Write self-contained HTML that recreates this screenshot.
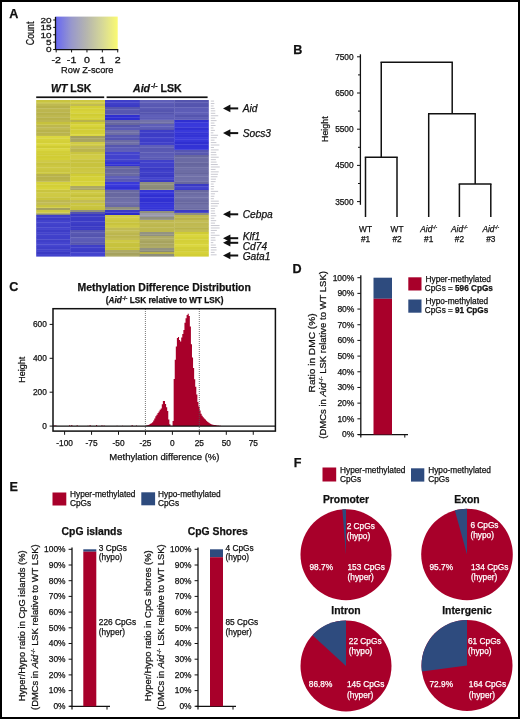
<!DOCTYPE html>
<html><head><meta charset="utf-8"><style>
html,body{margin:0;padding:0;background:#fff;}
body{width:520px;height:719px;overflow:hidden;position:relative;}
svg{position:absolute;left:0;top:0;filter:blur(0.3px);}
svg text{font-family:"Liberation Sans",sans-serif;stroke:currentColor;stroke-width:0.25px;}
svg{color:#111;}
.w{color:#fff;}
</style></head><body>
<svg width="520" height="719" viewBox="0 0 520 719" font-family="Liberation Sans, sans-serif" fill="#111">
<rect x="0" y="0" width="520" height="719" fill="#fff"/>
<text x="9.2" y="17.9" font-size="12.6" font-weight="bold">A</text>
<text x="293.3" y="53.9" font-size="12.6" font-weight="bold">B</text>
<text x="9.2" y="290.6" font-size="12.6" font-weight="bold">C</text>
<text x="292.6" y="272.7" font-size="12.6" font-weight="bold">D</text>
<text x="9.5" y="490.9" font-size="12.6" font-weight="bold">E</text>
<text x="293.8" y="466.9" font-size="12.6" font-weight="bold">F</text>
<defs><linearGradient id="ck" x1="0" x2="1" y1="0" y2="0"><stop offset="0" stop-color="#6868f2"/><stop offset="0.25" stop-color="#9898cc"/><stop offset="0.5" stop-color="#b6b6ae"/><stop offset="0.75" stop-color="#d6d898"/><stop offset="1" stop-color="#fafa72"/></linearGradient></defs>
<rect x="56.00" y="16.60" width="61.70" height="32.60" fill="url(#ck)"/>
<line x1="55.5" y1="16.8" x2="55.5" y2="50" stroke="#111" stroke-width="1.3"/>
<line x1="55.3" y1="49.6" x2="118.3" y2="49.6" stroke="#111" stroke-width="1.3"/>
<line x1="53.2" y1="20.0" x2="55.5" y2="20.0" stroke="#111" stroke-width="1"/>
<text transform="translate(51.6,22.80) scale(1.25,1)" font-size="8" text-anchor="end">20</text>
<line x1="53.2" y1="27.38" x2="55.5" y2="27.38" stroke="#111" stroke-width="1"/>
<text transform="translate(51.6,30.18) scale(1.25,1)" font-size="8" text-anchor="end">15</text>
<line x1="53.2" y1="34.76" x2="55.5" y2="34.76" stroke="#111" stroke-width="1"/>
<text transform="translate(51.6,37.56) scale(1.25,1)" font-size="8" text-anchor="end">10</text>
<line x1="53.2" y1="42.14" x2="55.5" y2="42.14" stroke="#111" stroke-width="1"/>
<text transform="translate(51.6,44.94) scale(1.25,1)" font-size="8" text-anchor="end">5</text>
<line x1="53.2" y1="49.519999999999996" x2="55.5" y2="49.519999999999996" stroke="#111" stroke-width="1"/>
<text transform="translate(51.6,52.32) scale(1.25,1)" font-size="8" text-anchor="end">0</text>
<line x1="56.2" y1="49.6" x2="56.2" y2="52.4" stroke="#111" stroke-width="1"/>
<text transform="translate(56.20,62.6) scale(1.3,1)" font-size="8.2" text-anchor="middle">-2</text>
<line x1="71.58" y1="49.6" x2="71.58" y2="52.4" stroke="#111" stroke-width="1"/>
<text transform="translate(71.58,62.6) scale(1.3,1)" font-size="8.2" text-anchor="middle">-1</text>
<line x1="86.96000000000001" y1="49.6" x2="86.96000000000001" y2="52.4" stroke="#111" stroke-width="1"/>
<text transform="translate(86.96,62.6) scale(1.3,1)" font-size="8.2" text-anchor="middle">0</text>
<line x1="102.34" y1="49.6" x2="102.34" y2="52.4" stroke="#111" stroke-width="1"/>
<text transform="translate(102.34,62.6) scale(1.3,1)" font-size="8.2" text-anchor="middle">1</text>
<line x1="117.72" y1="49.6" x2="117.72" y2="52.4" stroke="#111" stroke-width="1"/>
<text transform="translate(117.72,62.6) scale(1.3,1)" font-size="8.2" text-anchor="middle">2</text>
<text x="61.1" y="73.4" font-size="9.25">Row Z-score</text>
<text transform="translate(34,45.2) scale(1.22,1) rotate(-90)" font-size="8.8" textLength="23.6" lengthAdjust="spacingAndGlyphs">Count</text>
<text x="51" y="92.2" font-size="10.5" font-weight="bold"><tspan font-style="italic">WT</tspan> LSK</text>
<text x="133" y="92.2" font-size="10.6" font-weight="bold"><tspan font-style="italic">Aid</tspan><tspan font-size="7" dx="0.8" dy="-4">-/-</tspan><tspan dy="4"> LSK</tspan></text>
<rect x="36.20" y="96.40" width="68.00" height="1.70" fill="#111"/>
<rect x="106.60" y="96.40" width="101.00" height="1.70" fill="#111"/>
<rect x="36.20" y="100.00" width="34.30" height="2.74" fill="rgb(201,196,63)"/>
<rect x="36.20" y="102.44" width="34.30" height="1.36" fill="rgb(199,194,61)"/>
<rect x="36.20" y="103.50" width="34.30" height="2.74" fill="rgb(191,185,81)"/>
<rect x="36.20" y="105.94" width="34.30" height="2.74" fill="rgb(184,178,74)"/>
<rect x="36.20" y="108.38" width="34.30" height="1.92" fill="rgb(190,184,80)"/>
<rect x="36.20" y="110.00" width="34.30" height="2.74" fill="rgb(188,182,78)"/>
<rect x="36.20" y="112.44" width="34.30" height="2.74" fill="rgb(184,178,74)"/>
<rect x="36.20" y="114.88" width="34.30" height="2.74" fill="rgb(190,184,80)"/>
<rect x="36.20" y="117.32" width="34.30" height="2.74" fill="rgb(184,178,74)"/>
<rect x="36.20" y="119.76" width="34.30" height="2.54" fill="rgb(189,183,79)"/>
<rect x="36.20" y="122.00" width="34.30" height="2.74" fill="rgb(198,193,60)"/>
<rect x="36.20" y="124.44" width="34.30" height="0.86" fill="rgb(199,194,61)"/>
<rect x="36.20" y="125.00" width="34.30" height="2.74" fill="rgb(189,183,79)"/>
<rect x="36.20" y="127.44" width="34.30" height="2.74" fill="rgb(193,187,83)"/>
<rect x="36.20" y="129.88" width="34.30" height="2.74" fill="rgb(185,179,75)"/>
<rect x="36.20" y="132.32" width="34.30" height="2.74" fill="rgb(186,180,76)"/>
<rect x="36.20" y="134.76" width="34.30" height="1.54" fill="rgb(191,185,81)"/>
<rect x="36.20" y="136.00" width="34.30" height="2.74" fill="rgb(219,215,63)"/>
<rect x="36.20" y="138.44" width="34.30" height="2.74" fill="rgb(214,210,58)"/>
<rect x="36.20" y="140.88" width="34.30" height="2.74" fill="rgb(212,208,56)"/>
<rect x="36.20" y="143.32" width="34.30" height="2.74" fill="rgb(219,215,63)"/>
<rect x="36.20" y="145.76" width="34.30" height="2.74" fill="rgb(208,204,52)"/>
<rect x="36.20" y="148.20" width="34.30" height="2.74" fill="rgb(218,214,62)"/>
<rect x="36.20" y="150.64" width="34.30" height="2.74" fill="rgb(211,207,55)"/>
<rect x="36.20" y="153.08" width="34.30" height="2.74" fill="rgb(209,205,53)"/>
<rect x="36.20" y="155.52" width="34.30" height="2.74" fill="rgb(209,205,53)"/>
<rect x="36.20" y="157.96" width="34.30" height="2.34" fill="rgb(211,207,55)"/>
<rect x="36.20" y="160.00" width="34.30" height="2.74" fill="rgb(207,202,69)"/>
<rect x="36.20" y="162.44" width="34.30" height="2.74" fill="rgb(200,195,62)"/>
<rect x="36.20" y="164.88" width="34.30" height="2.74" fill="rgb(204,199,66)"/>
<rect x="36.20" y="167.32" width="34.30" height="2.74" fill="rgb(205,200,67)"/>
<rect x="36.20" y="169.76" width="34.30" height="2.74" fill="rgb(202,197,64)"/>
<rect x="36.20" y="172.20" width="34.30" height="2.10" fill="rgb(204,199,66)"/>
<rect x="36.20" y="174.00" width="34.30" height="2.74" fill="rgb(184,178,74)"/>
<rect x="36.20" y="176.44" width="34.30" height="2.74" fill="rgb(184,178,74)"/>
<rect x="36.20" y="178.88" width="34.30" height="2.74" fill="rgb(186,180,76)"/>
<rect x="36.20" y="181.32" width="34.30" height="0.98" fill="rgb(192,186,82)"/>
<rect x="36.20" y="182.00" width="34.30" height="2.74" fill="rgb(213,209,57)"/>
<rect x="36.20" y="184.44" width="34.30" height="2.74" fill="rgb(211,207,55)"/>
<rect x="36.20" y="186.88" width="34.30" height="2.74" fill="rgb(215,211,59)"/>
<rect x="36.20" y="189.32" width="34.30" height="0.98" fill="rgb(213,209,57)"/>
<rect x="36.20" y="190.00" width="34.30" height="2.74" fill="rgb(201,196,63)"/>
<rect x="36.20" y="192.44" width="34.30" height="2.74" fill="rgb(207,202,69)"/>
<rect x="36.20" y="194.88" width="34.30" height="2.74" fill="rgb(206,201,68)"/>
<rect x="36.20" y="197.32" width="34.30" height="2.74" fill="rgb(200,195,62)"/>
<rect x="36.20" y="199.76" width="34.30" height="0.54" fill="rgb(204,199,66)"/>
<rect x="36.20" y="200.00" width="34.30" height="2.74" fill="rgb(190,184,80)"/>
<rect x="36.20" y="202.44" width="34.30" height="2.74" fill="rgb(194,188,84)"/>
<rect x="36.20" y="204.88" width="34.30" height="0.42" fill="rgb(192,186,82)"/>
<rect x="36.20" y="205.00" width="34.30" height="2.74" fill="rgb(201,196,63)"/>
<rect x="36.20" y="207.44" width="34.30" height="0.86" fill="rgb(209,204,71)"/>
<rect x="36.20" y="208.00" width="34.30" height="2.30" fill="rgb(165,161,93)"/>
<rect x="36.20" y="210.00" width="34.30" height="2.74" fill="rgb(203,198,65)"/>
<rect x="36.20" y="212.44" width="34.30" height="1.36" fill="rgb(207,202,69)"/>
<rect x="36.20" y="213.50" width="34.30" height="1.80" fill="rgb(137,137,119)"/>
<rect x="36.20" y="215.00" width="34.30" height="2.74" fill="rgb(63,63,201)"/>
<rect x="36.20" y="217.44" width="34.30" height="2.74" fill="rgb(58,58,196)"/>
<rect x="36.20" y="219.88" width="34.30" height="2.74" fill="rgb(66,66,204)"/>
<rect x="36.20" y="222.32" width="34.30" height="2.74" fill="rgb(67,67,205)"/>
<rect x="36.20" y="224.76" width="34.30" height="2.74" fill="rgb(64,64,202)"/>
<rect x="36.20" y="227.20" width="34.30" height="2.74" fill="rgb(68,68,206)"/>
<rect x="36.20" y="229.64" width="34.30" height="2.74" fill="rgb(61,61,199)"/>
<rect x="36.20" y="232.08" width="34.30" height="2.74" fill="rgb(66,66,204)"/>
<rect x="36.20" y="234.52" width="34.30" height="2.74" fill="rgb(65,65,203)"/>
<rect x="36.20" y="236.96" width="34.30" height="2.74" fill="rgb(64,64,202)"/>
<rect x="36.20" y="239.40" width="34.30" height="2.74" fill="rgb(63,63,201)"/>
<rect x="36.20" y="241.84" width="34.30" height="2.74" fill="rgb(68,68,206)"/>
<rect x="36.20" y="244.28" width="34.30" height="2.74" fill="rgb(69,69,207)"/>
<rect x="36.20" y="246.72" width="34.30" height="2.74" fill="rgb(63,63,201)"/>
<rect x="36.20" y="249.16" width="34.30" height="2.74" fill="rgb(65,65,203)"/>
<rect x="36.20" y="251.60" width="34.30" height="2.74" fill="rgb(58,58,196)"/>
<rect x="36.20" y="254.04" width="34.30" height="2.56" fill="rgb(66,66,204)"/>
<rect x="70.20" y="100.00" width="35.10" height="2.74" fill="rgb(205,200,67)"/>
<rect x="70.20" y="102.44" width="35.10" height="1.86" fill="rgb(209,204,71)"/>
<rect x="70.20" y="104.00" width="35.10" height="2.30" fill="rgb(193,187,83)"/>
<rect x="70.20" y="106.00" width="35.10" height="2.74" fill="rgb(211,207,55)"/>
<rect x="70.20" y="108.44" width="35.10" height="2.74" fill="rgb(212,208,56)"/>
<rect x="70.20" y="110.88" width="35.10" height="2.74" fill="rgb(216,212,60)"/>
<rect x="70.20" y="113.32" width="35.10" height="2.74" fill="rgb(208,204,52)"/>
<rect x="70.20" y="115.76" width="35.10" height="2.74" fill="rgb(213,209,57)"/>
<rect x="70.20" y="118.20" width="35.10" height="2.10" fill="rgb(210,206,54)"/>
<rect x="70.20" y="120.00" width="35.10" height="2.30" fill="rgb(185,179,75)"/>
<rect x="70.20" y="122.00" width="35.10" height="2.74" fill="rgb(208,204,52)"/>
<rect x="70.20" y="124.44" width="35.10" height="2.74" fill="rgb(217,213,61)"/>
<rect x="70.20" y="126.88" width="35.10" height="2.74" fill="rgb(209,205,53)"/>
<rect x="70.20" y="129.32" width="35.10" height="2.74" fill="rgb(210,206,54)"/>
<rect x="70.20" y="131.76" width="35.10" height="2.74" fill="rgb(212,208,56)"/>
<rect x="70.20" y="134.20" width="35.10" height="2.10" fill="rgb(218,214,62)"/>
<rect x="70.20" y="136.00" width="35.10" height="2.74" fill="rgb(164,160,92)"/>
<rect x="70.20" y="138.44" width="35.10" height="2.74" fill="rgb(169,165,97)"/>
<rect x="70.20" y="140.88" width="35.10" height="1.42" fill="rgb(170,166,98)"/>
<rect x="70.20" y="142.00" width="35.10" height="2.74" fill="rgb(208,203,70)"/>
<rect x="70.20" y="144.44" width="35.10" height="1.86" fill="rgb(207,202,69)"/>
<rect x="70.20" y="146.00" width="35.10" height="2.74" fill="rgb(194,188,84)"/>
<rect x="70.20" y="148.44" width="35.10" height="2.74" fill="rgb(187,181,77)"/>
<rect x="70.20" y="150.88" width="35.10" height="1.42" fill="rgb(188,182,78)"/>
<rect x="70.20" y="152.00" width="35.10" height="2.74" fill="rgb(202,197,64)"/>
<rect x="70.20" y="154.44" width="35.10" height="2.74" fill="rgb(208,203,70)"/>
<rect x="70.20" y="156.88" width="35.10" height="2.74" fill="rgb(209,204,71)"/>
<rect x="70.20" y="159.32" width="35.10" height="0.98" fill="rgb(199,194,61)"/>
<rect x="70.20" y="160.00" width="35.10" height="2.74" fill="rgb(200,195,62)"/>
<rect x="70.20" y="162.44" width="35.10" height="2.74" fill="rgb(200,195,62)"/>
<rect x="70.20" y="164.88" width="35.10" height="2.74" fill="rgb(200,195,62)"/>
<rect x="70.20" y="167.32" width="35.10" height="2.74" fill="rgb(203,198,65)"/>
<rect x="70.20" y="169.76" width="35.10" height="2.74" fill="rgb(205,200,67)"/>
<rect x="70.20" y="172.20" width="35.10" height="2.10" fill="rgb(201,196,63)"/>
<rect x="70.20" y="174.00" width="35.10" height="2.74" fill="rgb(208,204,52)"/>
<rect x="70.20" y="176.44" width="35.10" height="2.74" fill="rgb(213,209,57)"/>
<rect x="70.20" y="178.88" width="35.10" height="2.74" fill="rgb(212,208,56)"/>
<rect x="70.20" y="181.32" width="35.10" height="2.74" fill="rgb(214,210,58)"/>
<rect x="70.20" y="183.76" width="35.10" height="2.54" fill="rgb(219,215,63)"/>
<rect x="70.20" y="186.00" width="35.10" height="2.74" fill="rgb(172,168,100)"/>
<rect x="70.20" y="188.44" width="35.10" height="1.86" fill="rgb(170,166,98)"/>
<rect x="70.20" y="190.00" width="35.10" height="2.74" fill="rgb(205,200,67)"/>
<rect x="70.20" y="192.44" width="35.10" height="2.74" fill="rgb(206,201,68)"/>
<rect x="70.20" y="194.88" width="35.10" height="2.74" fill="rgb(198,193,60)"/>
<rect x="70.20" y="197.32" width="35.10" height="2.74" fill="rgb(208,203,70)"/>
<rect x="70.20" y="199.76" width="35.10" height="0.54" fill="rgb(207,202,69)"/>
<rect x="70.20" y="200.00" width="35.10" height="2.74" fill="rgb(194,188,84)"/>
<rect x="70.20" y="202.44" width="35.10" height="0.86" fill="rgb(193,187,83)"/>
<rect x="70.20" y="203.00" width="35.10" height="2.74" fill="rgb(202,197,64)"/>
<rect x="70.20" y="205.44" width="35.10" height="2.74" fill="rgb(202,197,64)"/>
<rect x="70.20" y="207.88" width="35.10" height="2.42" fill="rgb(199,194,61)"/>
<rect x="70.20" y="210.00" width="35.10" height="2.30" fill="rgb(143,143,125)"/>
<rect x="70.20" y="212.00" width="35.10" height="2.30" fill="rgb(84,84,174)"/>
<rect x="70.20" y="214.00" width="35.10" height="2.74" fill="rgb(58,58,196)"/>
<rect x="70.20" y="216.44" width="35.10" height="2.74" fill="rgb(60,60,198)"/>
<rect x="70.20" y="218.88" width="35.10" height="2.74" fill="rgb(59,59,197)"/>
<rect x="70.20" y="221.32" width="35.10" height="2.74" fill="rgb(62,62,200)"/>
<rect x="70.20" y="223.76" width="35.10" height="2.74" fill="rgb(58,58,196)"/>
<rect x="70.20" y="226.20" width="35.10" height="2.74" fill="rgb(58,58,196)"/>
<rect x="70.20" y="228.64" width="35.10" height="1.66" fill="rgb(59,59,197)"/>
<rect x="70.20" y="230.00" width="35.10" height="2.74" fill="rgb(85,85,175)"/>
<rect x="70.20" y="232.44" width="35.10" height="2.74" fill="rgb(88,88,178)"/>
<rect x="70.20" y="234.88" width="35.10" height="2.74" fill="rgb(84,84,174)"/>
<rect x="70.20" y="237.32" width="35.10" height="2.74" fill="rgb(94,94,184)"/>
<rect x="70.20" y="239.76" width="35.10" height="2.74" fill="rgb(91,91,181)"/>
<rect x="70.20" y="242.20" width="35.10" height="2.74" fill="rgb(85,85,175)"/>
<rect x="70.20" y="244.64" width="35.10" height="0.66" fill="rgb(87,87,177)"/>
<rect x="70.20" y="245.00" width="35.10" height="2.74" fill="rgb(62,62,200)"/>
<rect x="70.20" y="247.44" width="35.10" height="2.74" fill="rgb(62,62,200)"/>
<rect x="70.20" y="249.88" width="35.10" height="2.74" fill="rgb(59,59,197)"/>
<rect x="70.20" y="252.32" width="35.10" height="2.74" fill="rgb(68,68,206)"/>
<rect x="70.20" y="254.76" width="35.10" height="1.84" fill="rgb(69,69,207)"/>
<rect x="105.00" y="100.00" width="35.00" height="2.74" fill="rgb(63,63,201)"/>
<rect x="105.00" y="102.44" width="35.00" height="2.74" fill="rgb(63,63,201)"/>
<rect x="105.00" y="104.88" width="35.00" height="2.42" fill="rgb(59,59,197)"/>
<rect x="105.00" y="107.00" width="35.00" height="2.74" fill="rgb(85,85,175)"/>
<rect x="105.00" y="109.44" width="35.00" height="2.74" fill="rgb(88,88,178)"/>
<rect x="105.00" y="111.88" width="35.00" height="2.74" fill="rgb(87,87,177)"/>
<rect x="105.00" y="114.32" width="35.00" height="0.98" fill="rgb(93,93,183)"/>
<rect x="105.00" y="115.00" width="35.00" height="2.74" fill="rgb(47,47,209)"/>
<rect x="105.00" y="117.44" width="35.00" height="2.74" fill="rgb(46,46,208)"/>
<rect x="105.00" y="119.88" width="35.00" height="0.42" fill="rgb(57,57,219)"/>
<rect x="105.00" y="120.00" width="35.00" height="2.74" fill="rgb(108,108,164)"/>
<rect x="105.00" y="122.44" width="35.00" height="2.74" fill="rgb(103,103,159)"/>
<rect x="105.00" y="124.88" width="35.00" height="0.42" fill="rgb(108,108,164)"/>
<rect x="105.00" y="125.00" width="35.00" height="2.74" fill="rgb(84,84,174)"/>
<rect x="105.00" y="127.44" width="35.00" height="2.74" fill="rgb(90,90,180)"/>
<rect x="105.00" y="129.88" width="35.00" height="0.42" fill="rgb(95,95,185)"/>
<rect x="105.00" y="130.00" width="35.00" height="2.74" fill="rgb(112,112,168)"/>
<rect x="105.00" y="132.44" width="35.00" height="2.74" fill="rgb(110,110,166)"/>
<rect x="105.00" y="134.88" width="35.00" height="0.42" fill="rgb(105,105,161)"/>
<rect x="105.00" y="135.00" width="35.00" height="2.74" fill="rgb(88,88,178)"/>
<rect x="105.00" y="137.44" width="35.00" height="2.74" fill="rgb(86,86,176)"/>
<rect x="105.00" y="139.88" width="35.00" height="0.42" fill="rgb(93,93,183)"/>
<rect x="105.00" y="140.00" width="35.00" height="2.74" fill="rgb(108,108,164)"/>
<rect x="105.00" y="142.44" width="35.00" height="2.74" fill="rgb(111,111,167)"/>
<rect x="105.00" y="144.88" width="35.00" height="0.42" fill="rgb(105,105,161)"/>
<rect x="105.00" y="145.00" width="35.00" height="2.74" fill="rgb(86,86,176)"/>
<rect x="105.00" y="147.44" width="35.00" height="2.74" fill="rgb(93,93,183)"/>
<rect x="105.00" y="149.88" width="35.00" height="2.42" fill="rgb(95,95,185)"/>
<rect x="105.00" y="152.00" width="35.00" height="2.74" fill="rgb(68,68,206)"/>
<rect x="105.00" y="154.44" width="35.00" height="2.74" fill="rgb(67,67,205)"/>
<rect x="105.00" y="156.88" width="35.00" height="2.74" fill="rgb(67,67,205)"/>
<rect x="105.00" y="159.32" width="35.00" height="2.74" fill="rgb(66,66,204)"/>
<rect x="105.00" y="161.76" width="35.00" height="0.54" fill="rgb(60,60,198)"/>
<rect x="105.00" y="162.00" width="35.00" height="2.74" fill="rgb(52,52,214)"/>
<rect x="105.00" y="164.44" width="35.00" height="1.86" fill="rgb(50,50,212)"/>
<rect x="105.00" y="166.00" width="35.00" height="2.74" fill="rgb(102,102,158)"/>
<rect x="105.00" y="168.44" width="35.00" height="2.74" fill="rgb(102,102,158)"/>
<rect x="105.00" y="170.88" width="35.00" height="2.74" fill="rgb(105,105,161)"/>
<rect x="105.00" y="173.32" width="35.00" height="2.74" fill="rgb(105,105,161)"/>
<rect x="105.00" y="175.76" width="35.00" height="0.54" fill="rgb(110,110,166)"/>
<rect x="105.00" y="176.00" width="35.00" height="2.74" fill="rgb(95,95,185)"/>
<rect x="105.00" y="178.44" width="35.00" height="2.74" fill="rgb(89,89,179)"/>
<rect x="105.00" y="180.88" width="35.00" height="1.42" fill="rgb(95,95,185)"/>
<rect x="105.00" y="182.00" width="35.00" height="2.74" fill="rgb(57,57,219)"/>
<rect x="105.00" y="184.44" width="35.00" height="2.74" fill="rgb(57,57,219)"/>
<rect x="105.00" y="186.88" width="35.00" height="2.74" fill="rgb(50,50,212)"/>
<rect x="105.00" y="189.32" width="35.00" height="0.98" fill="rgb(48,48,210)"/>
<rect x="105.00" y="190.00" width="35.00" height="2.74" fill="rgb(104,104,160)"/>
<rect x="105.00" y="192.44" width="35.00" height="2.74" fill="rgb(104,104,160)"/>
<rect x="105.00" y="194.88" width="35.00" height="2.74" fill="rgb(104,104,160)"/>
<rect x="105.00" y="197.32" width="35.00" height="2.74" fill="rgb(109,109,165)"/>
<rect x="105.00" y="199.76" width="35.00" height="2.74" fill="rgb(112,112,168)"/>
<rect x="105.00" y="202.20" width="35.00" height="2.74" fill="rgb(112,112,168)"/>
<rect x="105.00" y="204.64" width="35.00" height="2.66" fill="rgb(107,107,163)"/>
<rect x="105.00" y="207.00" width="35.00" height="2.74" fill="rgb(143,143,125)"/>
<rect x="105.00" y="209.44" width="35.00" height="0.86" fill="rgb(145,145,127)"/>
<rect x="105.00" y="210.00" width="35.00" height="2.74" fill="rgb(59,59,197)"/>
<rect x="105.00" y="212.44" width="35.00" height="0.86" fill="rgb(65,65,203)"/>
<rect x="105.00" y="213.00" width="35.00" height="2.30" fill="rgb(44,44,200)"/>
<rect x="105.00" y="215.00" width="35.00" height="2.74" fill="rgb(207,202,69)"/>
<rect x="105.00" y="217.44" width="35.00" height="2.74" fill="rgb(207,202,69)"/>
<rect x="105.00" y="219.88" width="35.00" height="2.74" fill="rgb(203,198,65)"/>
<rect x="105.00" y="222.32" width="35.00" height="2.74" fill="rgb(200,195,62)"/>
<rect x="105.00" y="224.76" width="35.00" height="2.74" fill="rgb(207,202,69)"/>
<rect x="105.00" y="227.20" width="35.00" height="1.10" fill="rgb(201,196,63)"/>
<rect x="105.00" y="228.00" width="35.00" height="2.74" fill="rgb(193,187,83)"/>
<rect x="105.00" y="230.44" width="35.00" height="2.74" fill="rgb(195,189,85)"/>
<rect x="105.00" y="232.88" width="35.00" height="2.74" fill="rgb(188,182,78)"/>
<rect x="105.00" y="235.32" width="35.00" height="2.74" fill="rgb(188,182,78)"/>
<rect x="105.00" y="237.76" width="35.00" height="2.54" fill="rgb(195,189,85)"/>
<rect x="105.00" y="240.00" width="35.00" height="2.74" fill="rgb(206,201,68)"/>
<rect x="105.00" y="242.44" width="35.00" height="2.74" fill="rgb(200,195,62)"/>
<rect x="105.00" y="244.88" width="35.00" height="2.74" fill="rgb(199,194,61)"/>
<rect x="105.00" y="247.32" width="35.00" height="2.74" fill="rgb(199,194,61)"/>
<rect x="105.00" y="249.76" width="35.00" height="0.54" fill="rgb(208,203,70)"/>
<rect x="105.00" y="250.00" width="35.00" height="2.74" fill="rgb(173,169,101)"/>
<rect x="105.00" y="252.44" width="35.00" height="2.74" fill="rgb(165,161,93)"/>
<rect x="105.00" y="254.88" width="35.00" height="1.72" fill="rgb(173,169,101)"/>
<rect x="139.70" y="100.00" width="34.90" height="2.74" fill="rgb(95,95,185)"/>
<rect x="139.70" y="102.44" width="34.90" height="2.74" fill="rgb(91,91,181)"/>
<rect x="139.70" y="104.88" width="34.90" height="2.74" fill="rgb(88,88,178)"/>
<rect x="139.70" y="107.32" width="34.90" height="2.74" fill="rgb(90,90,180)"/>
<rect x="139.70" y="109.76" width="34.90" height="2.74" fill="rgb(85,85,175)"/>
<rect x="139.70" y="112.20" width="34.90" height="2.74" fill="rgb(84,84,174)"/>
<rect x="139.70" y="114.64" width="34.90" height="2.74" fill="rgb(95,95,185)"/>
<rect x="139.70" y="117.08" width="34.90" height="2.74" fill="rgb(91,91,181)"/>
<rect x="139.70" y="119.52" width="34.90" height="0.78" fill="rgb(90,90,180)"/>
<rect x="139.70" y="120.00" width="34.90" height="2.74" fill="rgb(113,113,169)"/>
<rect x="139.70" y="122.44" width="34.90" height="1.86" fill="rgb(107,107,163)"/>
<rect x="139.70" y="124.00" width="34.90" height="2.74" fill="rgb(94,94,184)"/>
<rect x="139.70" y="126.44" width="34.90" height="2.74" fill="rgb(93,93,183)"/>
<rect x="139.70" y="128.88" width="34.90" height="1.42" fill="rgb(86,86,176)"/>
<rect x="139.70" y="130.00" width="34.90" height="2.74" fill="rgb(61,61,199)"/>
<rect x="139.70" y="132.44" width="34.90" height="2.74" fill="rgb(61,61,199)"/>
<rect x="139.70" y="134.88" width="34.90" height="2.74" fill="rgb(60,60,198)"/>
<rect x="139.70" y="137.32" width="34.90" height="2.74" fill="rgb(65,65,203)"/>
<rect x="139.70" y="139.76" width="34.90" height="2.74" fill="rgb(61,61,199)"/>
<rect x="139.70" y="142.20" width="34.90" height="2.74" fill="rgb(63,63,201)"/>
<rect x="139.70" y="144.64" width="34.90" height="0.66" fill="rgb(59,59,197)"/>
<rect x="139.70" y="145.00" width="34.90" height="2.74" fill="rgb(94,94,184)"/>
<rect x="139.70" y="147.44" width="34.90" height="2.74" fill="rgb(88,88,178)"/>
<rect x="139.70" y="149.88" width="34.90" height="2.74" fill="rgb(89,89,179)"/>
<rect x="139.70" y="152.32" width="34.90" height="2.74" fill="rgb(91,91,181)"/>
<rect x="139.70" y="154.76" width="34.90" height="2.74" fill="rgb(94,94,184)"/>
<rect x="139.70" y="157.20" width="34.90" height="2.74" fill="rgb(89,89,179)"/>
<rect x="139.70" y="159.64" width="34.90" height="0.66" fill="rgb(95,95,185)"/>
<rect x="139.70" y="160.00" width="34.90" height="2.74" fill="rgb(64,64,202)"/>
<rect x="139.70" y="162.44" width="34.90" height="2.74" fill="rgb(64,64,202)"/>
<rect x="139.70" y="164.88" width="34.90" height="2.74" fill="rgb(64,64,202)"/>
<rect x="139.70" y="167.32" width="34.90" height="2.74" fill="rgb(58,58,196)"/>
<rect x="139.70" y="169.76" width="34.90" height="2.74" fill="rgb(63,63,201)"/>
<rect x="139.70" y="172.20" width="34.90" height="2.74" fill="rgb(60,60,198)"/>
<rect x="139.70" y="174.64" width="34.90" height="2.74" fill="rgb(58,58,196)"/>
<rect x="139.70" y="177.08" width="34.90" height="2.74" fill="rgb(67,67,205)"/>
<rect x="139.70" y="179.52" width="34.90" height="2.74" fill="rgb(60,60,198)"/>
<rect x="139.70" y="181.96" width="34.90" height="0.34" fill="rgb(63,63,201)"/>
<rect x="139.70" y="182.00" width="34.90" height="2.74" fill="rgb(144,144,126)"/>
<rect x="139.70" y="184.44" width="34.90" height="2.74" fill="rgb(142,142,124)"/>
<rect x="139.70" y="186.88" width="34.90" height="2.74" fill="rgb(139,139,121)"/>
<rect x="139.70" y="189.32" width="34.90" height="0.98" fill="rgb(142,142,124)"/>
<rect x="139.70" y="190.00" width="34.90" height="2.74" fill="rgb(52,52,214)"/>
<rect x="139.70" y="192.44" width="34.90" height="2.74" fill="rgb(55,55,217)"/>
<rect x="139.70" y="194.88" width="34.90" height="2.74" fill="rgb(47,47,209)"/>
<rect x="139.70" y="197.32" width="34.90" height="2.74" fill="rgb(52,52,214)"/>
<rect x="139.70" y="199.76" width="34.90" height="2.74" fill="rgb(48,48,210)"/>
<rect x="139.70" y="202.20" width="34.90" height="2.74" fill="rgb(49,49,211)"/>
<rect x="139.70" y="204.64" width="34.90" height="2.74" fill="rgb(55,55,217)"/>
<rect x="139.70" y="207.08" width="34.90" height="2.74" fill="rgb(52,52,214)"/>
<rect x="139.70" y="209.52" width="34.90" height="1.78" fill="rgb(52,52,214)"/>
<rect x="139.70" y="211.00" width="34.90" height="2.30" fill="rgb(145,145,127)"/>
<rect x="139.70" y="213.00" width="34.90" height="2.74" fill="rgb(154,154,169)"/>
<rect x="139.70" y="215.44" width="34.90" height="1.86" fill="rgb(149,149,164)"/>
<rect x="139.70" y="217.00" width="34.90" height="2.74" fill="rgb(143,143,125)"/>
<rect x="139.70" y="219.44" width="34.90" height="0.86" fill="rgb(142,142,124)"/>
<rect x="139.70" y="220.00" width="34.90" height="2.74" fill="rgb(190,184,80)"/>
<rect x="139.70" y="222.44" width="34.90" height="2.74" fill="rgb(192,186,82)"/>
<rect x="139.70" y="224.88" width="34.90" height="2.74" fill="rgb(189,183,79)"/>
<rect x="139.70" y="227.32" width="34.90" height="2.74" fill="rgb(190,184,80)"/>
<rect x="139.70" y="229.76" width="34.90" height="2.54" fill="rgb(189,183,79)"/>
<rect x="139.70" y="232.00" width="34.90" height="2.74" fill="rgb(147,147,129)"/>
<rect x="139.70" y="234.44" width="34.90" height="1.86" fill="rgb(144,144,126)"/>
<rect x="139.70" y="236.00" width="34.90" height="2.74" fill="rgb(174,170,102)"/>
<rect x="139.70" y="238.44" width="34.90" height="2.74" fill="rgb(175,171,103)"/>
<rect x="139.70" y="240.88" width="34.90" height="2.74" fill="rgb(167,163,95)"/>
<rect x="139.70" y="243.32" width="34.90" height="2.74" fill="rgb(170,166,98)"/>
<rect x="139.70" y="245.76" width="34.90" height="2.54" fill="rgb(175,171,103)"/>
<rect x="139.70" y="248.00" width="34.90" height="2.74" fill="rgb(146,146,128)"/>
<rect x="139.70" y="250.44" width="34.90" height="1.86" fill="rgb(137,137,119)"/>
<rect x="139.70" y="252.00" width="34.90" height="2.30" fill="rgb(185,179,75)"/>
<rect x="139.70" y="254.00" width="34.90" height="2.60" fill="rgb(141,141,123)"/>
<rect x="174.30" y="100.00" width="34.50" height="2.74" fill="rgb(84,84,174)"/>
<rect x="174.30" y="102.44" width="34.50" height="2.74" fill="rgb(86,86,176)"/>
<rect x="174.30" y="104.88" width="34.50" height="2.74" fill="rgb(84,84,174)"/>
<rect x="174.30" y="107.32" width="34.50" height="2.74" fill="rgb(92,92,182)"/>
<rect x="174.30" y="109.76" width="34.50" height="2.74" fill="rgb(93,93,183)"/>
<rect x="174.30" y="112.20" width="34.50" height="2.74" fill="rgb(94,94,184)"/>
<rect x="174.30" y="114.64" width="34.50" height="2.74" fill="rgb(85,85,175)"/>
<rect x="174.30" y="117.08" width="34.50" height="2.74" fill="rgb(92,92,182)"/>
<rect x="174.30" y="119.52" width="34.50" height="0.78" fill="rgb(91,91,181)"/>
<rect x="174.30" y="120.00" width="34.50" height="2.74" fill="rgb(47,47,209)"/>
<rect x="174.30" y="122.44" width="34.50" height="2.74" fill="rgb(56,56,218)"/>
<rect x="174.30" y="124.88" width="34.50" height="2.74" fill="rgb(57,57,219)"/>
<rect x="174.30" y="127.32" width="34.50" height="2.74" fill="rgb(48,48,210)"/>
<rect x="174.30" y="129.76" width="34.50" height="2.74" fill="rgb(57,57,219)"/>
<rect x="174.30" y="132.20" width="34.50" height="2.74" fill="rgb(50,50,212)"/>
<rect x="174.30" y="134.64" width="34.50" height="2.74" fill="rgb(51,51,213)"/>
<rect x="174.30" y="137.08" width="34.50" height="2.74" fill="rgb(57,57,219)"/>
<rect x="174.30" y="139.52" width="34.50" height="2.74" fill="rgb(55,55,217)"/>
<rect x="174.30" y="141.96" width="34.50" height="2.74" fill="rgb(47,47,209)"/>
<rect x="174.30" y="144.40" width="34.50" height="2.74" fill="rgb(51,51,213)"/>
<rect x="174.30" y="146.84" width="34.50" height="2.74" fill="rgb(52,52,214)"/>
<rect x="174.30" y="149.28" width="34.50" height="1.02" fill="rgb(50,50,212)"/>
<rect x="174.30" y="150.00" width="34.50" height="2.74" fill="rgb(86,86,176)"/>
<rect x="174.30" y="152.44" width="34.50" height="2.74" fill="rgb(87,87,177)"/>
<rect x="174.30" y="154.88" width="34.50" height="0.42" fill="rgb(92,92,182)"/>
<rect x="174.30" y="155.00" width="34.50" height="2.74" fill="rgb(102,102,158)"/>
<rect x="174.30" y="157.44" width="34.50" height="2.74" fill="rgb(108,108,164)"/>
<rect x="174.30" y="159.88" width="34.50" height="2.74" fill="rgb(107,107,163)"/>
<rect x="174.30" y="162.32" width="34.50" height="2.74" fill="rgb(102,102,158)"/>
<rect x="174.30" y="164.76" width="34.50" height="2.74" fill="rgb(105,105,161)"/>
<rect x="174.30" y="167.20" width="34.50" height="2.74" fill="rgb(109,109,165)"/>
<rect x="174.30" y="169.64" width="34.50" height="2.74" fill="rgb(108,108,164)"/>
<rect x="174.30" y="172.08" width="34.50" height="2.22" fill="rgb(102,102,158)"/>
<rect x="174.30" y="174.00" width="34.50" height="2.74" fill="rgb(113,113,169)"/>
<rect x="174.30" y="176.44" width="34.50" height="2.74" fill="rgb(111,111,167)"/>
<rect x="174.30" y="178.88" width="34.50" height="2.74" fill="rgb(113,113,169)"/>
<rect x="174.30" y="181.32" width="34.50" height="2.74" fill="rgb(103,103,159)"/>
<rect x="174.30" y="183.76" width="34.50" height="0.54" fill="rgb(105,105,161)"/>
<rect x="174.30" y="184.00" width="34.50" height="2.74" fill="rgb(58,58,196)"/>
<rect x="174.30" y="186.44" width="34.50" height="2.74" fill="rgb(67,67,205)"/>
<rect x="174.30" y="188.88" width="34.50" height="1.42" fill="rgb(61,61,199)"/>
<rect x="174.30" y="190.00" width="34.50" height="2.74" fill="rgb(103,103,159)"/>
<rect x="174.30" y="192.44" width="34.50" height="2.74" fill="rgb(107,107,163)"/>
<rect x="174.30" y="194.88" width="34.50" height="2.74" fill="rgb(112,112,168)"/>
<rect x="174.30" y="197.32" width="34.50" height="2.74" fill="rgb(111,111,167)"/>
<rect x="174.30" y="199.76" width="34.50" height="2.74" fill="rgb(105,105,161)"/>
<rect x="174.30" y="202.20" width="34.50" height="2.74" fill="rgb(103,103,159)"/>
<rect x="174.30" y="204.64" width="34.50" height="2.74" fill="rgb(113,113,169)"/>
<rect x="174.30" y="207.08" width="34.50" height="2.74" fill="rgb(108,108,164)"/>
<rect x="174.30" y="209.52" width="34.50" height="0.78" fill="rgb(110,110,166)"/>
<rect x="174.30" y="210.00" width="34.50" height="2.74" fill="rgb(59,59,197)"/>
<rect x="174.30" y="212.44" width="34.50" height="0.86" fill="rgb(58,58,196)"/>
<rect x="174.30" y="213.00" width="34.50" height="2.30" fill="rgb(144,144,126)"/>
<rect x="174.30" y="215.00" width="34.50" height="2.74" fill="rgb(189,183,79)"/>
<rect x="174.30" y="217.44" width="34.50" height="2.74" fill="rgb(184,178,74)"/>
<rect x="174.30" y="219.88" width="34.50" height="2.74" fill="rgb(195,189,85)"/>
<rect x="174.30" y="222.32" width="34.50" height="2.74" fill="rgb(191,185,81)"/>
<rect x="174.30" y="224.76" width="34.50" height="2.74" fill="rgb(193,187,83)"/>
<rect x="174.30" y="227.20" width="34.50" height="2.74" fill="rgb(185,179,75)"/>
<rect x="174.30" y="229.64" width="34.50" height="2.66" fill="rgb(194,188,84)"/>
<rect x="174.30" y="232.00" width="34.50" height="2.74" fill="rgb(208,204,52)"/>
<rect x="174.30" y="234.44" width="34.50" height="2.74" fill="rgb(218,214,62)"/>
<rect x="174.30" y="236.88" width="34.50" height="2.74" fill="rgb(213,209,57)"/>
<rect x="174.30" y="239.32" width="34.50" height="2.74" fill="rgb(212,208,56)"/>
<rect x="174.30" y="241.76" width="34.50" height="2.74" fill="rgb(214,210,58)"/>
<rect x="174.30" y="244.20" width="34.50" height="2.74" fill="rgb(219,215,63)"/>
<rect x="174.30" y="246.64" width="34.50" height="2.74" fill="rgb(211,207,55)"/>
<rect x="174.30" y="249.08" width="34.50" height="2.74" fill="rgb(209,205,53)"/>
<rect x="174.30" y="251.52" width="34.50" height="2.74" fill="rgb(214,210,58)"/>
<rect x="174.30" y="253.96" width="34.50" height="2.64" fill="rgb(210,206,54)"/>
<rect x="210.80" y="100.60" width="3.21" height="1.00" fill="#9c9cac" opacity="0.55"/>
<rect x="210.80" y="103.04" width="3.55" height="1.00" fill="#9c9cac" opacity="0.55"/>
<rect x="210.80" y="105.48" width="2.83" height="1.00" fill="#9c9cac" opacity="0.55"/>
<rect x="210.80" y="107.92" width="3.81" height="1.00" fill="#9c9cac" opacity="0.55"/>
<rect x="210.80" y="110.36" width="4.53" height="1.00" fill="#9c9cac" opacity="0.55"/>
<rect x="210.80" y="112.80" width="4.48" height="1.00" fill="#9c9cac" opacity="0.55"/>
<rect x="210.80" y="115.24" width="7.44" height="1.00" fill="#9c9cac" opacity="0.55"/>
<rect x="210.80" y="117.68" width="4.38" height="1.00" fill="#9c9cac" opacity="0.55"/>
<rect x="210.80" y="120.12" width="5.75" height="1.00" fill="#9c9cac" opacity="0.55"/>
<rect x="210.80" y="122.56" width="3.66" height="1.00" fill="#9c9cac" opacity="0.55"/>
<rect x="210.80" y="125.00" width="4.76" height="1.00" fill="#9c9cac" opacity="0.55"/>
<rect x="210.80" y="127.44" width="2.62" height="1.00" fill="#9c9cac" opacity="0.55"/>
<rect x="210.80" y="129.88" width="4.13" height="1.00" fill="#9c9cac" opacity="0.55"/>
<rect x="210.80" y="132.32" width="2.60" height="1.00" fill="#9c9cac" opacity="0.55"/>
<rect x="210.80" y="134.76" width="7.27" height="1.00" fill="#9c9cac" opacity="0.55"/>
<rect x="210.80" y="137.20" width="6.08" height="1.00" fill="#9c9cac" opacity="0.55"/>
<rect x="210.80" y="139.64" width="3.73" height="1.00" fill="#9c9cac" opacity="0.55"/>
<rect x="210.80" y="142.08" width="5.59" height="1.00" fill="#9c9cac" opacity="0.55"/>
<rect x="210.80" y="144.52" width="8.58" height="1.00" fill="#9c9cac" opacity="0.55"/>
<rect x="210.80" y="146.96" width="3.19" height="1.00" fill="#9c9cac" opacity="0.55"/>
<rect x="210.80" y="149.40" width="7.82" height="1.00" fill="#9c9cac" opacity="0.55"/>
<rect x="210.80" y="151.84" width="5.31" height="1.00" fill="#9c9cac" opacity="0.55"/>
<rect x="210.80" y="154.28" width="5.72" height="1.00" fill="#9c9cac" opacity="0.55"/>
<rect x="210.80" y="156.72" width="7.92" height="1.00" fill="#9c9cac" opacity="0.55"/>
<rect x="210.80" y="159.16" width="5.06" height="1.00" fill="#9c9cac" opacity="0.55"/>
<rect x="210.80" y="161.60" width="5.79" height="1.00" fill="#9c9cac" opacity="0.55"/>
<rect x="210.80" y="164.04" width="6.97" height="1.00" fill="#9c9cac" opacity="0.55"/>
<rect x="210.80" y="166.48" width="8.89" height="1.00" fill="#9c9cac" opacity="0.55"/>
<rect x="210.80" y="168.92" width="4.73" height="1.00" fill="#9c9cac" opacity="0.55"/>
<rect x="210.80" y="171.36" width="7.91" height="1.00" fill="#9c9cac" opacity="0.55"/>
<rect x="210.80" y="173.80" width="7.09" height="1.00" fill="#9c9cac" opacity="0.55"/>
<rect x="210.80" y="176.24" width="6.63" height="1.00" fill="#9c9cac" opacity="0.55"/>
<rect x="210.80" y="178.68" width="5.13" height="1.00" fill="#9c9cac" opacity="0.55"/>
<rect x="210.80" y="181.12" width="4.76" height="1.00" fill="#9c9cac" opacity="0.55"/>
<rect x="210.80" y="183.56" width="2.85" height="1.00" fill="#9c9cac" opacity="0.55"/>
<rect x="210.80" y="186.00" width="3.34" height="1.00" fill="#9c9cac" opacity="0.55"/>
<rect x="210.80" y="188.44" width="2.96" height="1.00" fill="#9c9cac" opacity="0.55"/>
<rect x="210.80" y="190.88" width="7.32" height="1.00" fill="#9c9cac" opacity="0.55"/>
<rect x="210.80" y="193.32" width="4.16" height="1.00" fill="#9c9cac" opacity="0.55"/>
<rect x="210.80" y="195.76" width="3.56" height="1.00" fill="#9c9cac" opacity="0.55"/>
<rect x="210.80" y="198.20" width="3.05" height="1.00" fill="#9c9cac" opacity="0.55"/>
<rect x="210.80" y="200.64" width="7.97" height="1.00" fill="#9c9cac" opacity="0.55"/>
<rect x="210.80" y="203.08" width="8.16" height="1.00" fill="#9c9cac" opacity="0.55"/>
<rect x="210.80" y="205.52" width="6.86" height="1.00" fill="#9c9cac" opacity="0.55"/>
<rect x="210.80" y="207.96" width="4.33" height="1.00" fill="#9c9cac" opacity="0.55"/>
<rect x="210.80" y="210.40" width="4.07" height="1.00" fill="#9c9cac" opacity="0.55"/>
<rect x="210.80" y="212.84" width="4.40" height="1.00" fill="#9c9cac" opacity="0.55"/>
<rect x="210.80" y="215.28" width="5.49" height="1.00" fill="#9c9cac" opacity="0.55"/>
<rect x="210.80" y="217.72" width="3.52" height="1.00" fill="#9c9cac" opacity="0.55"/>
<rect x="210.80" y="220.16" width="5.40" height="1.00" fill="#9c9cac" opacity="0.55"/>
<rect x="210.80" y="222.60" width="4.21" height="1.00" fill="#9c9cac" opacity="0.55"/>
<rect x="210.80" y="225.04" width="8.75" height="1.00" fill="#9c9cac" opacity="0.55"/>
<rect x="210.80" y="227.48" width="8.82" height="1.00" fill="#9c9cac" opacity="0.55"/>
<rect x="210.80" y="229.92" width="6.06" height="1.00" fill="#9c9cac" opacity="0.55"/>
<rect x="210.80" y="232.36" width="4.09" height="1.00" fill="#9c9cac" opacity="0.55"/>
<rect x="210.80" y="234.80" width="8.78" height="1.00" fill="#9c9cac" opacity="0.55"/>
<rect x="210.80" y="237.24" width="4.51" height="1.00" fill="#9c9cac" opacity="0.55"/>
<rect x="210.80" y="239.68" width="4.82" height="1.00" fill="#9c9cac" opacity="0.55"/>
<rect x="210.80" y="242.12" width="2.51" height="1.00" fill="#9c9cac" opacity="0.55"/>
<rect x="210.80" y="244.56" width="4.98" height="1.00" fill="#9c9cac" opacity="0.55"/>
<rect x="210.80" y="247.00" width="5.59" height="1.00" fill="#9c9cac" opacity="0.55"/>
<rect x="210.80" y="249.44" width="5.77" height="1.00" fill="#9c9cac" opacity="0.55"/>
<rect x="210.80" y="251.88" width="3.81" height="1.00" fill="#9c9cac" opacity="0.55"/>
<rect x="210.80" y="254.32" width="5.78" height="1.00" fill="#9c9cac" opacity="0.55"/>
<line x1="228" y1="108.4" x2="238.2" y2="108.4" stroke="#111" stroke-width="2"/>
<path d="M223,108.4 L230.4,104.60000000000001 L230.4,112.2 Z" fill="#111"/>
<text x="242.7" y="112.2" font-size="10.2" font-style="italic">Aid</text>
<line x1="228" y1="133.1" x2="238.2" y2="133.1" stroke="#111" stroke-width="2"/>
<path d="M223,133.1 L230.4,129.29999999999998 L230.4,136.9 Z" fill="#111"/>
<text x="242.7" y="136.9" font-size="10.2" font-style="italic">Socs3</text>
<line x1="228" y1="214.3" x2="238.2" y2="214.3" stroke="#111" stroke-width="2"/>
<path d="M223,214.3 L230.4,210.5 L230.4,218.10000000000002 Z" fill="#111"/>
<text x="242.7" y="218" font-size="10.2" font-style="italic">Cebpa</text>
<line x1="228" y1="238.2" x2="238.2" y2="238.2" stroke="#111" stroke-width="2"/>
<path d="M223,238.2 L230.4,234.39999999999998 L230.4,242.0 Z" fill="#111"/>
<text x="242.7" y="240.1" font-size="10.2" font-style="italic">Klf1</text>
<line x1="228" y1="242.8" x2="238.2" y2="242.8" stroke="#111" stroke-width="2"/>
<path d="M223,242.8 L230.4,239.0 L230.4,246.60000000000002 Z" fill="#111"/>
<text x="242.7" y="250" font-size="10.2" font-style="italic">Cd74</text>
<line x1="228" y1="255.5" x2="238.2" y2="255.5" stroke="#111" stroke-width="2"/>
<path d="M223,255.5 L230.4,251.7 L230.4,259.3 Z" fill="#111"/>
<text x="242.7" y="259.9" font-size="10.2" font-style="italic">Gata1</text>
<line x1="360.4" y1="54.3" x2="360.4" y2="204.8" stroke="#111" stroke-width="1.3"/>
<line x1="357" y1="56.8" x2="360.4" y2="56.8" stroke="#111" stroke-width="1"/>
<line x1="358" y1="74.9" x2="360.4" y2="74.9" stroke="#111" stroke-width="1"/>
<line x1="357" y1="93.0" x2="360.4" y2="93.0" stroke="#111" stroke-width="1"/>
<line x1="358" y1="111.1" x2="360.4" y2="111.1" stroke="#111" stroke-width="1"/>
<line x1="357" y1="129.2" x2="360.4" y2="129.2" stroke="#111" stroke-width="1"/>
<line x1="358" y1="147.3" x2="360.4" y2="147.3" stroke="#111" stroke-width="1"/>
<line x1="357" y1="165.4" x2="360.4" y2="165.4" stroke="#111" stroke-width="1"/>
<line x1="358" y1="183.5" x2="360.4" y2="183.5" stroke="#111" stroke-width="1"/>
<line x1="357" y1="201.60000000000002" x2="360.4" y2="201.60000000000002" stroke="#111" stroke-width="1"/>
<text x="353.6" y="59.699999999999996" font-size="8.3" text-anchor="end">7500</text>
<text x="353.6" y="95.9" font-size="8.3" text-anchor="end">6500</text>
<text x="353.6" y="132.1" font-size="8.3" text-anchor="end">5500</text>
<text x="353.6" y="168.3" font-size="8.3" text-anchor="end">4500</text>
<text x="353.6" y="204.50000000000003" font-size="8.3" text-anchor="end">3500</text>
<text transform="translate(327.9,129.15) rotate(-90)" font-size="9.3" text-anchor="middle" textLength="25.6" lengthAdjust="spacingAndGlyphs">Height</text>
<line x1="365.5" y1="217" x2="365.5" y2="157.3" stroke="#111" stroke-width="1.5"/>
<line x1="397" y1="217" x2="397" y2="157.3" stroke="#111" stroke-width="1.5"/>
<line x1="364.75" y1="157.3" x2="397.75" y2="157.3" stroke="#111" stroke-width="1.5"/>
<line x1="381.25" y1="157.3" x2="381.25" y2="62.2" stroke="#111" stroke-width="1.5"/>
<line x1="380.5" y1="62.2" x2="452.9" y2="62.2" stroke="#111" stroke-width="1.5"/>
<line x1="452.2" y1="62.2" x2="452.2" y2="113.8" stroke="#111" stroke-width="1.5"/>
<line x1="428" y1="113.8" x2="475.9" y2="113.8" stroke="#111" stroke-width="1.5"/>
<line x1="428.7" y1="113.8" x2="428.7" y2="217" stroke="#111" stroke-width="1.5"/>
<line x1="475.2" y1="113.8" x2="475.2" y2="184" stroke="#111" stroke-width="1.5"/>
<line x1="458.7" y1="184" x2="491.5" y2="184" stroke="#111" stroke-width="1.5"/>
<line x1="459.4" y1="184" x2="459.4" y2="217" stroke="#111" stroke-width="1.5"/>
<line x1="490.8" y1="184" x2="490.8" y2="217" stroke="#111" stroke-width="1.5"/>
<text x="365.5" y="231.7" font-size="8.3" text-anchor="middle">WT</text>
<text x="397" y="231.7" font-size="8.3" text-anchor="middle">WT</text>
<text x="428.7" y="231.7" font-size="8.3" text-anchor="middle" font-style="italic">Aid<tspan font-size="5" dy="-3">-/-</tspan></text>
<text x="459.4" y="231.7" font-size="8.3" text-anchor="middle" font-style="italic">Aid<tspan font-size="5" dy="-3">-/-</tspan></text>
<text x="490.8" y="231.7" font-size="8.3" text-anchor="middle" font-style="italic">Aid<tspan font-size="5" dy="-3">-/-</tspan></text>
<text x="365.5" y="242.2" font-size="8.3" text-anchor="middle">#1</text>
<text x="397" y="242.2" font-size="8.3" text-anchor="middle">#2</text>
<text x="428.7" y="242.2" font-size="8.3" text-anchor="middle">#1</text>
<text x="459.4" y="242.2" font-size="8.3" text-anchor="middle">#2</text>
<text x="490.8" y="242.2" font-size="8.3" text-anchor="middle">#3</text>
<text x="164.2" y="290.6" font-size="10.45" text-anchor="middle" font-weight="bold">Methylation Difference Distribution</text>
<text x="164.6" y="302.6" font-size="8.2" font-weight="bold" text-anchor="middle">(<tspan font-style="italic">Aid</tspan><tspan font-size="5.6" dx="0.5" dy="-3">-/-</tspan><tspan dy="3"> LSK relative to WT LSK)</tspan></text>
<path d="M53,426.1 L54.00,425.56 L55.08,425.56 L55.08,425.44 L56.16,425.44 L56.16,425.78 L57.23,425.78 L57.23,426.10 L58.31,426.10 L58.31,426.10 L59.39,426.10 L59.39,426.10 L60.47,426.10 L60.47,426.10 L61.55,426.10 L61.55,426.10 L62.62,426.10 L62.62,426.10 L63.70,426.10 L63.70,426.10 L64.78,426.10 L64.78,426.10 L65.86,426.10 L65.86,426.10 L66.94,426.10 L66.94,426.10 L68.01,426.10 L68.01,426.10 L69.09,426.10 L69.09,425.15 L70.17,425.15 L70.17,426.10 L71.25,426.10 L71.25,425.05 L72.33,425.05 L72.33,426.10 L73.40,426.10 L73.40,426.10 L74.48,426.10 L74.48,426.10 L75.56,426.10 L75.56,426.10 L76.64,426.10 L76.64,425.33 L77.72,425.33 L77.72,426.10 L78.79,426.10 L78.79,426.10 L79.87,426.10 L79.87,426.10 L80.95,426.10 L80.95,426.10 L82.03,426.10 L82.03,426.10 L83.11,426.10 L83.11,426.10 L84.18,426.10 L84.18,426.10 L85.26,426.10 L85.26,426.10 L86.34,426.10 L86.34,426.10 L87.42,426.10 L87.42,425.68 L88.50,425.68 L88.50,426.10 L89.57,426.10 L89.57,425.05 L90.65,425.05 L90.65,426.10 L91.73,426.10 L91.73,426.10 L92.81,426.10 L92.81,426.10 L93.89,426.10 L93.89,426.10 L94.96,426.10 L94.96,426.10 L96.04,426.10 L96.04,425.08 L97.12,425.08 L97.12,426.10 L98.20,426.10 L98.20,426.10 L99.28,426.10 L99.28,426.10 L100.35,426.10 L100.35,426.10 L101.43,426.10 L101.43,425.14 L102.51,425.14 L102.51,426.10 L103.59,426.10 L103.59,425.56 L104.67,425.56 L104.67,426.10 L105.74,426.10 L105.74,426.10 L106.82,426.10 L106.82,426.10 L107.90,426.10 L107.90,426.10 L108.98,426.10 L108.98,426.10 L110.06,426.10 L110.06,426.10 L111.13,426.10 L111.13,426.10 L112.21,426.10 L112.21,426.10 L113.29,426.10 L113.29,426.10 L114.37,426.10 L114.37,426.10 L115.45,426.10 L115.45,426.10 L116.52,426.10 L116.52,425.67 L117.60,425.67 L117.60,426.10 L118.68,426.10 L118.68,426.10 L119.76,426.10 L119.76,426.10 L120.84,426.10 L120.84,426.10 L121.91,426.10 L121.91,425.75 L122.99,425.75 L122.99,426.10 L124.07,426.10 L124.07,426.10 L125.15,426.10 L125.15,426.10 L126.23,426.10 L126.23,426.10 L127.30,426.10 L127.30,426.10 L128.38,426.10 L128.38,426.10 L129.46,426.10 L129.46,426.10 L130.54,426.10 L130.54,426.10 L131.62,426.10 L131.62,425.00 L132.69,425.00 L132.69,426.10 L133.77,426.10 L133.77,426.10 L134.85,426.10 L134.85,426.10 L135.93,426.10 L135.93,425.39 L137.01,425.39 L137.01,426.10 L138.08,426.10 L138.08,426.10 L139.16,426.10 L139.16,426.10 L140.24,426.10 L140.24,426.10 L141.32,426.10 L141.32,426.10 L142.40,426.10 L142.40,426.10 L143.47,426.10 L143.47,426.10 L144.55,426.10 L144.55,426.10 L145.63,426.10 L145.63,425.56 L146.71,425.56 L146.71,425.29 L147.79,425.29 L147.79,424.94 L148.86,424.94 L148.86,424.40 L149.94,424.40 L149.94,423.86 L151.02,423.86 L151.02,423.32 L152.10,423.32 L152.10,422.14 L153.18,422.14 L153.18,420.53 L154.25,420.53 L154.25,418.51 L155.33,418.51 L155.33,416.36 L156.41,416.36 L156.41,414.68 L157.49,414.68 L157.49,413.06 L158.57,413.06 L158.57,411.44 L159.64,411.44 L159.64,409.86 L160.72,409.86 L160.72,408.42 L161.80,408.42 L161.80,404.18 L162.88,404.18 L162.88,401.10 L163.96,401.10 L163.96,401.10 L165.03,401.10 L165.03,403.96 L166.11,403.96 L166.11,407.13 L167.19,407.13 L167.19,411.10 L168.27,411.10 L168.27,419.40 L169.35,419.40 L169.35,424.32 L170.42,424.32 L170.42,425.83 L171.50,425.83 L171.50,426.10 L172.58,426.10 L172.58,421.00 L173.66,421.00 L173.66,379.05 L174.74,379.05 L174.74,359.77 L175.81,359.77 L175.81,346.57 L176.89,346.57 L176.89,337.92 L177.97,337.92 L177.97,337.12 L179.05,337.12 L179.05,340.08 L180.13,340.08 L180.13,341.53 L181.20,341.53 L181.20,337.59 L182.28,337.59 L182.28,333.91 L183.36,333.91 L183.36,330.07 L184.44,330.07 L184.44,322.66 L185.52,322.66 L185.52,318.16 L186.59,318.16 L186.59,314.97 L187.67,314.97 L187.67,313.63 L188.75,313.63 L188.75,316.07 L189.83,316.07 L189.83,326.50 L190.91,326.50 L190.91,344.14 L191.98,344.14 L191.98,357.50 L193.06,357.50 L193.06,368.08 L194.14,368.08 L194.14,379.35 L195.22,379.35 L195.22,386.86 L196.30,386.86 L196.30,394.38 L197.37,394.38 L197.37,401.89 L198.45,401.89 L198.45,406.52 L199.53,406.52 L199.53,410.49 L200.61,410.49 L200.61,413.66 L201.69,413.66 L201.69,415.69 L202.76,415.69 L202.76,417.15 L203.84,417.15 L203.84,418.48 L204.92,418.48 L204.92,419.56 L206.00,419.56 L206.00,420.64 L207.08,420.64 L207.08,421.69 L208.15,421.69 L208.15,422.49 L209.23,422.49 L209.23,423.29 L210.31,423.29 L210.31,424.09 L211.39,424.09 L211.39,424.41 L212.47,424.41 L212.47,424.65 L213.54,424.65 L213.54,424.89 L214.62,424.89 L214.62,425.12 L215.70,425.12 L215.70,425.27 L216.78,425.27 L216.78,425.42 L217.86,425.42 L217.86,425.58 L218.93,425.58 L218.93,425.73 L220.01,425.73 L220.01,425.84 L221.09,425.84 L221.09,425.92 L222.17,425.92 L222.17,426.00 L223.25,426.00 L223.25,426.08 L224.32,426.08 L224.32,426.10 L225.40,426.10 L225.40,426.10 L226.48,426.10 L226.48,426.10 L227.56,426.10 L227.56,426.10 L228.64,426.10 L228.64,426.10 L229.71,426.10 L229.71,426.10 L230.79,426.10 L230.79,426.10 L231.87,426.10 L231.87,426.10 L232.95,426.10 L232.95,426.10 L234.03,426.10 L234.03,426.10 L235.10,426.10 L235.10,426.10 L236.18,426.10 L236.18,426.10 L237.26,426.10 L237.26,426.10 L238.34,426.10 L238.34,426.10 L239.42,426.10 L239.42,426.10 L240.49,426.10 L240.49,426.10 L241.57,426.10 L241.57,426.10 L242.65,426.10 L242.65,426.10 L243.73,426.10 L243.73,426.10 L244.81,426.10 L244.81,426.10 L245.88,426.10 L245.88,426.10 L246.96,426.10 L246.96,426.10 L248.04,426.10 L248.04,426.10 L249.12,426.10 L249.12,426.10 L250.20,426.10 L250.20,426.10 L251.27,426.10 L251.27,426.10 L252.35,426.10 L252.35,426.10 L253.43,426.10 L253.43,426.10 L254.51,426.10 L254.51,426.10 L255.59,426.10 L255.59,426.10 L256.66,426.10 L256.66,426.10 L257.74,426.10 L257.74,426.10 L258.82,426.10 L258.82,426.10 L259.90,426.10 L259.90,426.10 L260.98,426.10 L260.98,426.10 L262.05,426.10 L262.05,426.10 L263.13,426.10 L263.13,426.10 L264.21,426.10 L264.21,426.10 L265.29,426.10 L265.29,426.10 L266.37,426.10 L266.37,426.10 L267.44,426.10 L267.44,426.10 L268.52,426.10 L268.52,426.10 L269.60,426.10 L269.60,426.10 L270.68,426.10 L270.68,426.10 L271.76,426.10 L271.76,426.10 L272.83,426.10 L272.83,426.10 L273.91,426.10 L273.91,426.10 L274.99,426.10 L274.99,426.10 L276.07,426.10 L275,426.1 Z" fill="#a8002a"/>
<line x1="53" y1="426.1" x2="275.4" y2="426.1" stroke="#111" stroke-width="1.1"/>
<line x1="145.4" y1="309" x2="145.4" y2="430.5" stroke="#555" stroke-width="0.8" stroke-dasharray="1,1"/>
<line x1="199.3" y1="309" x2="199.3" y2="430.5" stroke="#555" stroke-width="0.8" stroke-dasharray="1,1"/>
<rect x="53" y="308.7" width="222.4" height="122.4" fill="none" stroke="#111" stroke-width="1.5"/>
<line x1="49.6" y1="426.1" x2="53" y2="426.1" stroke="#111" stroke-width="1"/>
<text x="46.8" y="429.0" font-size="8.3" text-anchor="end">0</text>
<line x1="49.6" y1="392.20000000000005" x2="53" y2="392.20000000000005" stroke="#111" stroke-width="1"/>
<text x="46.8" y="395.1" font-size="8.3" text-anchor="end">200</text>
<line x1="49.6" y1="358.3" x2="53" y2="358.3" stroke="#111" stroke-width="1"/>
<text x="46.8" y="361.2" font-size="8.3" text-anchor="end">400</text>
<line x1="49.6" y1="324.40000000000003" x2="53" y2="324.40000000000003" stroke="#111" stroke-width="1"/>
<text x="46.8" y="327.3" font-size="8.3" text-anchor="end">600</text>
<text transform="translate(25.2,369.65) rotate(-90)" font-size="9.4" text-anchor="middle" textLength="26" lengthAdjust="spacingAndGlyphs">Height</text>
<line x1="64.6" y1="431.1" x2="64.6" y2="434.8" stroke="#111" stroke-width="1"/>
<text x="64.6" y="445.7" font-size="8.3" text-anchor="middle">-100</text>
<line x1="91.55" y1="431.1" x2="91.55" y2="434.8" stroke="#111" stroke-width="1"/>
<text x="91.55" y="445.7" font-size="8.3" text-anchor="middle">-75</text>
<line x1="118.5" y1="431.1" x2="118.5" y2="434.8" stroke="#111" stroke-width="1"/>
<text x="118.5" y="445.7" font-size="8.3" text-anchor="middle">-50</text>
<line x1="145.45" y1="431.1" x2="145.45" y2="434.8" stroke="#111" stroke-width="1"/>
<text x="145.45" y="445.7" font-size="8.3" text-anchor="middle">-25</text>
<line x1="172.39999999999998" y1="431.1" x2="172.39999999999998" y2="434.8" stroke="#111" stroke-width="1"/>
<text x="172.39999999999998" y="445.7" font-size="8.3" text-anchor="middle">0</text>
<line x1="199.35" y1="431.1" x2="199.35" y2="434.8" stroke="#111" stroke-width="1"/>
<text x="199.35" y="445.7" font-size="8.3" text-anchor="middle">25</text>
<line x1="226.29999999999998" y1="431.1" x2="226.29999999999998" y2="434.8" stroke="#111" stroke-width="1"/>
<text x="226.29999999999998" y="445.7" font-size="8.3" text-anchor="middle">50</text>
<line x1="253.25" y1="431.1" x2="253.25" y2="434.8" stroke="#111" stroke-width="1"/>
<text x="253.25" y="445.7" font-size="8.3" text-anchor="middle">75</text>
<text x="164.4" y="460.3" font-size="9.5" text-anchor="middle">Methylation difference (%)</text>
<line x1="360.8" y1="275.3" x2="360.8" y2="435.2" stroke="#111" stroke-width="1.3"/>
<line x1="357.8" y1="434.6" x2="408" y2="434.6" stroke="#111" stroke-width="1.3"/>
<line x1="404.8" y1="434.6" x2="404.8" y2="437.6" stroke="#111" stroke-width="1"/>
<line x1="360.8" y1="434.6" x2="360.8" y2="437.6" stroke="#111" stroke-width="1.2"/>
<line x1="357.40000000000003" y1="434.5" x2="360.8" y2="434.5" stroke="#111" stroke-width="1"/>
<text x="354.4" y="437.3" font-size="8.5" text-anchor="end">0%</text>
<line x1="357.40000000000003" y1="418.82" x2="360.8" y2="418.82" stroke="#111" stroke-width="1"/>
<text x="354.4" y="421.62" font-size="8.5" text-anchor="end">10%</text>
<line x1="357.40000000000003" y1="403.14" x2="360.8" y2="403.14" stroke="#111" stroke-width="1"/>
<text x="354.4" y="405.94" font-size="8.5" text-anchor="end">20%</text>
<line x1="357.40000000000003" y1="387.46" x2="360.8" y2="387.46" stroke="#111" stroke-width="1"/>
<text x="354.4" y="390.26" font-size="8.5" text-anchor="end">30%</text>
<line x1="357.40000000000003" y1="371.78" x2="360.8" y2="371.78" stroke="#111" stroke-width="1"/>
<text x="354.4" y="374.58" font-size="8.5" text-anchor="end">40%</text>
<line x1="357.40000000000003" y1="356.1" x2="360.8" y2="356.1" stroke="#111" stroke-width="1"/>
<text x="354.4" y="358.90000000000003" font-size="8.5" text-anchor="end">50%</text>
<line x1="357.40000000000003" y1="340.42" x2="360.8" y2="340.42" stroke="#111" stroke-width="1"/>
<text x="354.4" y="343.22" font-size="8.5" text-anchor="end">60%</text>
<line x1="357.40000000000003" y1="324.74" x2="360.8" y2="324.74" stroke="#111" stroke-width="1"/>
<text x="354.4" y="327.54" font-size="8.5" text-anchor="end">70%</text>
<line x1="357.40000000000003" y1="309.06" x2="360.8" y2="309.06" stroke="#111" stroke-width="1"/>
<text x="354.4" y="311.86" font-size="8.5" text-anchor="end">80%</text>
<line x1="357.40000000000003" y1="293.38" x2="360.8" y2="293.38" stroke="#111" stroke-width="1"/>
<text x="354.4" y="296.18" font-size="8.5" text-anchor="end">90%</text>
<line x1="357.40000000000003" y1="277.7" x2="360.8" y2="277.7" stroke="#111" stroke-width="1"/>
<text x="354.4" y="280.5" font-size="8.5" text-anchor="end">100%</text>
<rect x="373.50" y="277.70" width="18.50" height="21.10" fill="#2e4b7e"/>
<rect x="373.50" y="298.80" width="18.50" height="135.70" fill="#a8002a"/>
<rect x="408.30" y="277.30" width="13.20" height="13.20" fill="#a8002a"/>
<rect x="408.30" y="299.50" width="13.20" height="13.20" fill="#2e4b7e"/>
<text x="425.5" y="282.2" font-size="8.3">Hyper-methylated</text>
<text x="424.8" y="291" font-size="8.2">CpGs = <tspan font-weight="bold">596 CpGs</tspan></text>
<text x="425.5" y="303.7" font-size="8.3">Hypo-methylated</text>
<text x="424.8" y="313" font-size="8.2">CpGs = <tspan font-weight="bold">91 CpGs</tspan></text>
<text transform="translate(315.3,352.9) rotate(-90)" font-size="9.6" text-anchor="middle" textLength="79" lengthAdjust="spacingAndGlyphs">Ratio in DMC (%)</text>
<text transform="translate(326.3,354.9) rotate(-90)" font-size="9.5" text-anchor="middle">(DMCs in <tspan font-style="italic">Aid</tspan><tspan font-size="6" dx="0.6" dy="-3.4">-/-</tspan><tspan dy="3.4"> LSK relative to WT LSK)</tspan></text>
<rect x="52.50" y="492.50" width="13.80" height="13.00" fill="#a8002a"/>
<text x="70" y="497.2" font-size="8.3">Hyper-methylated</text>
<text x="70" y="506.3" font-size="8.3">CpGs</text>
<rect x="141.30" y="492.30" width="13.80" height="13.00" fill="#2e4b7e"/>
<text x="158" y="497.2" font-size="8.3">Hypo-methylated</text>
<text x="158" y="506.3" font-size="8.3">CpGs</text>
<text x="91.9" y="534.6" font-size="10.4" text-anchor="middle" font-weight="bold">CpG islands</text>
<line x1="72" y1="547.5" x2="72" y2="707" stroke="#111" stroke-width="1.3"/>
<line x1="69.6" y1="706.3" x2="110" y2="706.3" stroke="#111" stroke-width="1.3"/>
<line x1="107" y1="706.3" x2="107" y2="709.6" stroke="#111" stroke-width="1"/>
<line x1="72" y1="706.3" x2="72" y2="709.6" stroke="#111" stroke-width="1.2"/>
<line x1="68.6" y1="706.3" x2="72" y2="706.3" stroke="#111" stroke-width="1"/>
<text x="65.5" y="709.0999999999999" font-size="8.4" text-anchor="end">0%</text>
<line x1="68.6" y1="690.5999999999999" x2="72" y2="690.5999999999999" stroke="#111" stroke-width="1"/>
<text x="65.5" y="693.3999999999999" font-size="8.4" text-anchor="end">10%</text>
<line x1="68.6" y1="674.9" x2="72" y2="674.9" stroke="#111" stroke-width="1"/>
<text x="65.5" y="677.6999999999999" font-size="8.4" text-anchor="end">20%</text>
<line x1="68.6" y1="659.1999999999999" x2="72" y2="659.1999999999999" stroke="#111" stroke-width="1"/>
<text x="65.5" y="661.9999999999999" font-size="8.4" text-anchor="end">30%</text>
<line x1="68.6" y1="643.5" x2="72" y2="643.5" stroke="#111" stroke-width="1"/>
<text x="65.5" y="646.3" font-size="8.4" text-anchor="end">40%</text>
<line x1="68.6" y1="627.8" x2="72" y2="627.8" stroke="#111" stroke-width="1"/>
<text x="65.5" y="630.5999999999999" font-size="8.4" text-anchor="end">50%</text>
<line x1="68.6" y1="612.0999999999999" x2="72" y2="612.0999999999999" stroke="#111" stroke-width="1"/>
<text x="65.5" y="614.8999999999999" font-size="8.4" text-anchor="end">60%</text>
<line x1="68.6" y1="596.4" x2="72" y2="596.4" stroke="#111" stroke-width="1"/>
<text x="65.5" y="599.1999999999999" font-size="8.4" text-anchor="end">70%</text>
<line x1="68.6" y1="580.6999999999999" x2="72" y2="580.6999999999999" stroke="#111" stroke-width="1"/>
<text x="65.5" y="583.4999999999999" font-size="8.4" text-anchor="end">80%</text>
<line x1="68.6" y1="565.0" x2="72" y2="565.0" stroke="#111" stroke-width="1"/>
<text x="65.5" y="567.8" font-size="8.4" text-anchor="end">90%</text>
<line x1="68.6" y1="549.3" x2="72" y2="549.3" stroke="#111" stroke-width="1"/>
<text x="65.5" y="552.0999999999999" font-size="8.4" text-anchor="end">100%</text>
<rect x="83.30" y="549.30" width="13.00" height="2.40" fill="#2e4b7e"/>
<rect x="83.30" y="551.70" width="13.00" height="154.60" fill="#a8002a"/>
<text transform="translate(24.8,625.8) rotate(-90)" font-size="9.4" text-anchor="middle" textLength="151" lengthAdjust="spacingAndGlyphs">Hyper/Hypo ratio in CpG islands (%)</text>
<text transform="translate(38.1,627.2) rotate(-90)" font-size="9.4" text-anchor="middle">(DMCs in <tspan font-style="italic">Aid</tspan><tspan font-size="6" dx="0.6" dy="-3.4">-/-</tspan><tspan dy="3.4"> LSK relative to WT LSK)</tspan></text>
<text x="98.8" y="550.6" font-size="8.3">3 CpGs</text>
<text x="98.8" y="560.2" font-size="8.3">(hypo)</text>
<text x="98.8" y="625" font-size="8.3">226 CpGs</text>
<text x="98.8" y="634.8" font-size="8.3">(hyper)</text>
<text x="217.8" y="534.6" font-size="10.4" text-anchor="middle" font-weight="bold">CpG Shores</text>
<line x1="198" y1="547.5" x2="198" y2="707" stroke="#111" stroke-width="1.3"/>
<line x1="195.6" y1="706.3" x2="236" y2="706.3" stroke="#111" stroke-width="1.3"/>
<line x1="233" y1="706.3" x2="233" y2="709.6" stroke="#111" stroke-width="1"/>
<line x1="198" y1="706.3" x2="198" y2="709.6" stroke="#111" stroke-width="1.2"/>
<line x1="194.6" y1="706.3" x2="198" y2="706.3" stroke="#111" stroke-width="1"/>
<text x="191.5" y="709.0999999999999" font-size="8.4" text-anchor="end">0%</text>
<line x1="194.6" y1="690.5999999999999" x2="198" y2="690.5999999999999" stroke="#111" stroke-width="1"/>
<text x="191.5" y="693.3999999999999" font-size="8.4" text-anchor="end">10%</text>
<line x1="194.6" y1="674.9" x2="198" y2="674.9" stroke="#111" stroke-width="1"/>
<text x="191.5" y="677.6999999999999" font-size="8.4" text-anchor="end">20%</text>
<line x1="194.6" y1="659.1999999999999" x2="198" y2="659.1999999999999" stroke="#111" stroke-width="1"/>
<text x="191.5" y="661.9999999999999" font-size="8.4" text-anchor="end">30%</text>
<line x1="194.6" y1="643.5" x2="198" y2="643.5" stroke="#111" stroke-width="1"/>
<text x="191.5" y="646.3" font-size="8.4" text-anchor="end">40%</text>
<line x1="194.6" y1="627.8" x2="198" y2="627.8" stroke="#111" stroke-width="1"/>
<text x="191.5" y="630.5999999999999" font-size="8.4" text-anchor="end">50%</text>
<line x1="194.6" y1="612.0999999999999" x2="198" y2="612.0999999999999" stroke="#111" stroke-width="1"/>
<text x="191.5" y="614.8999999999999" font-size="8.4" text-anchor="end">60%</text>
<line x1="194.6" y1="596.4" x2="198" y2="596.4" stroke="#111" stroke-width="1"/>
<text x="191.5" y="599.1999999999999" font-size="8.4" text-anchor="end">70%</text>
<line x1="194.6" y1="580.6999999999999" x2="198" y2="580.6999999999999" stroke="#111" stroke-width="1"/>
<text x="191.5" y="583.4999999999999" font-size="8.4" text-anchor="end">80%</text>
<line x1="194.6" y1="565.0" x2="198" y2="565.0" stroke="#111" stroke-width="1"/>
<text x="191.5" y="567.8" font-size="8.4" text-anchor="end">90%</text>
<line x1="194.6" y1="549.3" x2="198" y2="549.3" stroke="#111" stroke-width="1"/>
<text x="191.5" y="552.0999999999999" font-size="8.4" text-anchor="end">100%</text>
<rect x="210.00" y="549.30" width="13.00" height="7.90" fill="#2e4b7e"/>
<rect x="210.00" y="557.20" width="13.00" height="149.10" fill="#a8002a"/>
<text transform="translate(151.1,625.8) rotate(-90)" font-size="9.4" text-anchor="middle" textLength="151" lengthAdjust="spacingAndGlyphs">Hyper/Hypo ratio in CpG shores (%)</text>
<text transform="translate(163.9,627.2) rotate(-90)" font-size="9.4" text-anchor="middle">(DMCs in <tspan font-style="italic">Aid</tspan><tspan font-size="6" dx="0.6" dy="-3.4">-/-</tspan><tspan dy="3.4"> LSK relative to WT LSK)</tspan></text>
<text x="225.5" y="550.6" font-size="8.3">4 CpGs</text>
<text x="225.5" y="560.2" font-size="8.3">(hypo)</text>
<text x="225.5" y="625" font-size="8.3">85 CpGs</text>
<text x="225.5" y="634.8" font-size="8.3">(hyper)</text>
<rect x="322.50" y="467.50" width="13.70" height="14.00" fill="#a8002a"/>
<text x="340" y="473" font-size="8.3">Hyper-methylated</text>
<text x="340" y="482" font-size="8.3">CpGs</text>
<rect x="411.00" y="468.30" width="13.30" height="13.30" fill="#2e4b7e"/>
<text x="428.2" y="473" font-size="8.3">Hypo-methylated</text>
<text x="428.2" y="482" font-size="8.3">CpGs</text>
<text x="346" y="503.1" font-size="10.4" text-anchor="middle" font-weight="bold">Promoter</text>
<circle cx="346" cy="554.7" r="45.5" fill="#a8002a"/>
<path d="M346,554.7 L346,509.20000000000005 A45.5,45.5 0 0,0 342.32,509.35 Z" fill="#2e4b7e"/>
<text x="346.7" y="528.6" font-size="8.3" fill="#fff" class="w">2 CpGs</text>
<text x="346.7" y="538.7" font-size="8.3" fill="#fff" class="w">(hypo)</text>
<text x="309.5" y="569.8000000000001" font-size="8.3" fill="#fff" class="w">98.7%</text>
<text x="347.5" y="569.8000000000001" font-size="8.3" fill="#fff" class="w">153 CpGs</text>
<text x="347.5" y="580.4000000000001" font-size="8.3" fill="#fff" class="w">(hyper)</text>
<text x="467" y="503.1" font-size="10.4" text-anchor="middle" font-weight="bold">Exon</text>
<circle cx="467" cy="554.5" r="45.8" fill="#a8002a"/>
<path d="M467,554.5 L467,508.7 A45.8,45.8 0 0,0 454.82,510.35 Z" fill="#2e4b7e"/>
<text x="470.4" y="527.8" font-size="8.3" fill="#fff" class="w">6 CpGs</text>
<text x="470.4" y="537.9" font-size="8.3" fill="#fff" class="w">(hypo)</text>
<text x="429.5" y="569.5" font-size="8.3" fill="#fff" class="w">95.7%</text>
<text x="471" y="569.5" font-size="8.3" fill="#fff" class="w">134 CpGs</text>
<text x="471" y="580.1" font-size="8.3" fill="#fff" class="w">(hyper)</text>
<text x="346" y="613.6" font-size="10.4" text-anchor="middle" font-weight="bold">Intron</text>
<circle cx="346" cy="666" r="45.5" fill="#a8002a"/>
<path d="M346,666 L346,620.5 A45.5,45.5 0 0,0 312.49,635.22 Z" fill="#2e4b7e"/>
<text x="348.8" y="643.5" font-size="8.3" fill="#fff" class="w">22 CpGs</text>
<text x="348.8" y="653.6" font-size="8.3" fill="#fff" class="w">(hypo)</text>
<text x="308.8" y="686.9" font-size="8.3" fill="#fff" class="w">86.8%</text>
<text x="347" y="686.9" font-size="8.3" fill="#fff" class="w">145 CpGs</text>
<text x="347" y="697.5" font-size="8.3" fill="#fff" class="w">(hyper)</text>
<text x="467" y="613.6" font-size="10.4" text-anchor="middle" font-weight="bold">Intergenic</text>
<circle cx="467" cy="665.5" r="45.5" fill="#a8002a"/>
<path d="M467,665.5 L467,620.0 A45.5,45.5 0 0,0 421.90,671.52 Z" fill="#2e4b7e"/>
<text x="468" y="643.5" font-size="8.3" fill="#fff" class="w">61 CpGs</text>
<text x="468" y="653.6" font-size="8.3" fill="#fff" class="w">(hypo)</text>
<text x="429.5" y="687.0" font-size="8.3" fill="#fff" class="w">72.9%</text>
<text x="468.8" y="687.0" font-size="8.3" fill="#fff" class="w">164 CpGs</text>
<text x="468.8" y="697.6" font-size="8.3" fill="#fff" class="w">(hyper)</text>
</svg>
<div style="position:absolute;left:0;top:0;width:516px;height:715px;border:2px solid #000;box-sizing:content-box;"></div>
</body></html>
